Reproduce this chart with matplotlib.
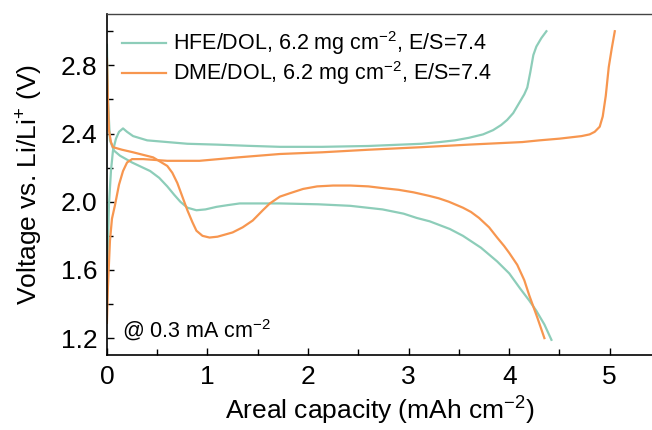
import matplotlib
matplotlib.use("Agg")
import matplotlib.pyplot as plt
from matplotlib.ticker import MultipleLocator

plt.rcParams['font.family'] = ['Liberation Sans', 'DejaVu Sans']
plt.rcParams['mathtext.default'] = 'regular'

# HFE/DOL discharge
hfe_dis_x = [0.0, 0.01, 0.03, 0.07, 0.13, 0.25, 0.43, 0.52, 0.6, 0.67, 0.73, 0.8, 0.89, 0.98, 1.09, 1.2, 1.32, 1.72,
             2.1, 2.42, 2.74, 2.95, 3.08, 3.21, 3.41, 3.54, 3.72, 3.88, 4.0, 4.11, 4.2, 4.27, 4.35, 4.42]
hfe_dis_y = [2.92, 2.6, 2.36, 2.3, 2.27, 2.23, 2.18, 2.14, 2.09, 2.04, 2.0, 1.965, 1.95, 1.955, 1.97, 1.98, 1.99, 1.99,
             1.985, 1.976, 1.955, 1.93, 1.905, 1.885, 1.84, 1.80, 1.73, 1.65, 1.58, 1.49, 1.42, 1.36, 1.28, 1.19]
# HFE/DOL charge
hfe_ch_x = [0.0, 0.01, 0.02, 0.04, 0.06, 0.09, 0.12, 0.16, 0.2, 0.26, 0.4, 0.6, 0.8, 1.09, 1.4, 1.72,
            2.14, 2.6, 3.13, 3.31, 3.46, 3.6, 3.74, 3.84, 3.92, 3.98, 4.04, 4.1, 4.15, 4.18, 4.21, 4.24, 4.27, 4.32, 4.37]
hfe_ch_y = [1.5, 1.75, 1.98, 2.18, 2.3, 2.37, 2.41, 2.43, 2.41, 2.385, 2.36, 2.35, 2.34, 2.335, 2.328, 2.322,
            2.322, 2.327, 2.34, 2.35, 2.36, 2.375, 2.395, 2.42, 2.45, 2.48, 2.52, 2.58, 2.63, 2.67, 2.76, 2.86, 2.91, 2.96, 3.0]
# DME/DOL discharge
dme_dis_x = [0.0, 0.01, 0.02, 0.04, 0.06, 0.15, 0.26, 0.46, 0.6, 0.65, 0.7, 0.75, 0.8, 0.85, 0.89, 0.95, 1.02, 1.1,
             1.25, 1.35, 1.45, 1.55, 1.62, 1.72, 1.82, 1.95, 2.09, 2.25, 2.42, 2.6, 2.74, 2.9, 3.05, 3.2, 3.3, 3.4,
             3.54, 3.62, 3.7, 3.8, 3.88, 3.95, 4.0, 4.08, 4.15, 4.2, 4.28, 4.35]
dme_dis_y = [2.84, 2.6, 2.42, 2.35, 2.32, 2.305, 2.29, 2.26, 2.21, 2.17, 2.11, 2.03, 1.95, 1.88, 1.83, 1.80, 1.79, 1.795,
             1.82, 1.85, 1.89, 1.95, 1.99, 2.03, 2.05, 2.075, 2.09, 2.095, 2.095, 2.09, 2.08, 2.07, 2.055, 2.035, 2.02, 2.0,
             1.965, 1.94, 1.905, 1.85, 1.79, 1.74, 1.70, 1.63, 1.54, 1.45, 1.32, 1.2]
# DME/DOL charge
dme_ch_x = [0.0, 0.01, 0.03, 0.05, 0.08, 0.12, 0.16, 0.2, 0.25, 0.36, 0.6, 0.92, 1.3, 1.72, 2.14, 2.6, 3.13, 3.6,
            4.13, 4.3, 4.5, 4.72, 4.8, 4.85, 4.9, 4.93, 4.96, 4.99, 5.02, 5.05]
dme_ch_y = [1.29, 1.5, 1.77, 1.9, 1.98, 2.1, 2.18, 2.23, 2.25, 2.25, 2.24, 2.24, 2.26, 2.28, 2.29, 2.305, 2.32, 2.335,
            2.35, 2.36, 2.37, 2.385, 2.395, 2.41, 2.44, 2.5, 2.62, 2.79, 2.9, 3.0]

green = '#8DCDB9'
orange = '#F7964F'

fig = plt.figure(figsize=(6.52, 4.30), dpi=100)
ax = fig.add_axes([0.164, 0.174, 0.836, 0.793])

ax.plot(hfe_dis_x, hfe_dis_y, color=green, lw=1.6, label='HFE/DOL, 6.2 mg cm$^{-2}$, E/S=7.4')
ax.plot(hfe_ch_x, hfe_ch_y, color=green, lw=1.6)
ax.plot(dme_dis_x, dme_dis_y, color=orange, lw=1.6, label='DME/DOL, 6.2 mg cm$^{-2}$, E/S=7.4')
ax.plot(dme_ch_x, dme_ch_y, color=orange, lw=1.6)

ax.set_xlim(0, 5.42)
ax.set_ylim(1.1, 3.1)
ax.xaxis.set_major_locator(MultipleLocator(1))
ax.xaxis.set_minor_locator(MultipleLocator(0.5))
ax.yaxis.set_minor_locator(MultipleLocator(0.2))
ax.set_yticks([1.2, 1.6, 2.0, 2.4, 2.8])
ax.set_yticklabels(['1.2', '1.6', '2.0', '2.4', '2.8'])
ax.tick_params(which='both', direction='in', labelsize=19, width=1.0)
ax.tick_params(which='major', length=5)
ax.tick_params(which='minor', length=4)
ax.tick_params(axis='x', pad=7)
ax.tick_params(axis='y', pad=7)
ax.spines['right'].set_visible(False)
for s in ['left', 'bottom']:
    ax.spines[s].set_linewidth(1.2)
ax.spines['top'].set_linewidth(1.0)
ax.spines['top'].set_color('#444444')

ax.set_xlabel('Areal capacity (mAh cm$^{-2}$)', fontsize=19, labelpad=4)
ax.set_ylabel('Voltage vs. Li/Li$^{+}$ (V)', fontsize=19, labelpad=11)

ax.legend(loc='upper left', bbox_to_anchor=(0.0275, 0.955), frameon=False, fontsize=15.5,
          handlelength=2.05, handletextpad=0.33, labelspacing=0.08, borderaxespad=0.0, borderpad=0.0)
ax.text(0.15, 1.247, '@ 0.3 mA cm$^{-2}$', fontsize=15.5, ha='left', va='center')

fig.savefig('out.png', dpi=100)
